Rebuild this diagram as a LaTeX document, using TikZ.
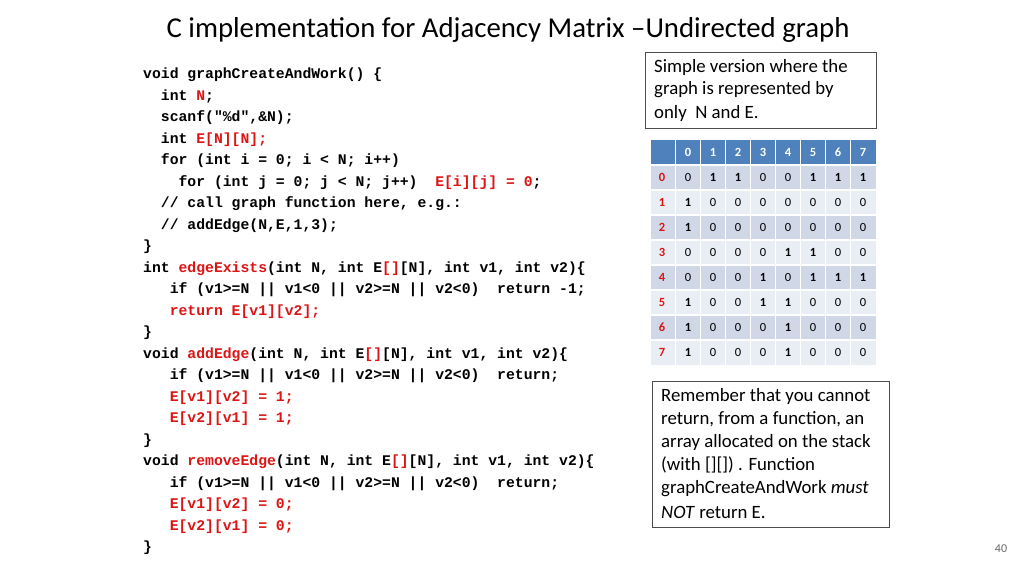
\documentclass[tikz,border=0pt]{standalone}
\usepackage{fontspec}
\setmainfont{Carlito}
\newfontfamily\codef{Liberation Mono}
\definecolor{hdr}{RGB}{79,129,189}
\definecolor{rowa}{RGB}{208,216,232}
\definecolor{rowb}{RGB}{233,237,244}
\definecolor{cred}{RGB}{220,20,20}
\newcommand{\R}[1]{\textcolor{cred}{#1}}
\begin{document}
\begin{tikzpicture}[x=1pt,y=-1pt,
 cl/.style={anchor=west,inner sep=0pt,font=\codef\bfseries\fontsize{14.75}{16}\selectfont},
 tb/.style={draw=black!70,line width=0.6pt,inner sep=0pt},
 bt/.style={anchor=west,inner sep=0pt,font=\fontsize{18.8}{20}\selectfont},
 ce/.style={font=\fontsize{12.5}{13}\selectfont,inner sep=0pt}]
\useasboundingbox (0,0) rectangle (1024,576);
\node[font=\fontsize{28.8}{32}\selectfont] (title) at (508,30) {C implementation for Adjacency Matrix –Undirected graph};
% code
\def\cw{8.85}
\foreach \i/\ind/\t in {
0/0/{void graphCreateAndWork() \{},
1/2/{int \R{N};},
2/2/{scanf("\%d",\&N);},
3/2/{int \R{E[N][N];}},
4/2/{for (int i = 0; i < N; i++)},
5/4/{for (int j = 0; j < N; j++)~~\R{E[i][j] = 0};},
6/2/{// call graph function here, e.g.:},
7/2/{// addEdge(N,E,1,3);},
8/0/{\}},
9/0/{int \R{edgeExists}(int N, int E\R{[]}[N], int v1, int v2)\{},
10/3/{if (v1>=N || v1<0 || v2>=N || v2<0)~~return -1;},
11/3/{\R{return E[v1][v2];}},
12/0/{\}},
13/0/{void \R{addEdge}(int N, int E\R{[]}[N], int v1, int v2)\{},
14/3/{if (v1>=N || v1<0 || v2>=N || v2<0)~~return;},
15/3/{\R{E[v1][v2] = 1;}},
16/3/{\R{E[v2][v1] = 1;}},
17/0/{\}},
18/0/{void \R{removeEdge}(int N, int E\R{[]}[N], int v1, int v2)\{},
19/3/{if (v1>=N || v1<0 || v2>=N || v2<0)~~return;},
20/3/{\R{E[v1][v2] = 0;}},
21/3/{\R{E[v2][v1] = 0;}},
22/0/{\}}}
 {\node[cl] (c\i) at (143+\ind*\cw, 75+\i*21.5) {\t};}
% box 1
\node[tb,minimum width=231,minimum height=76,anchor=north west] (b1) at (645,52) {};
\node[bt] (b1a) at (654,67) {Simple version where the};
\node[bt] (b1b) at (654,90) {graph is represented by};
\node[bt] (b1c) at (654,113) {only~ N and E.};
% matrix
\fill[hdr] (651,140) rectangle (876,165);
\foreach \r in {0,...,7}{
 \pgfmathsetmacro\yy{165+\r*25}
 \ifodd\r \fill[rowb] (651,\yy) rectangle (876,\yy+25); \else \fill[rowa] (651,\yy) rectangle (876,\yy+25); \fi}
\foreach \c in {1,...,8} \draw[white,line width=1.2pt] (651+\c*25-0.5,140) -- (651+\c*25-0.5,365);
\foreach \r in {1,...,8} \draw[white,line width=1.2pt] (651,140+\r*25) -- (876,140+\r*25);
\foreach \c in {0,...,7} \node[ce,text=white,font=\bfseries\fontsize{12.5}{13}\selectfont] (h\c) at (688+\c*25,152) {\c};
\foreach \r/\row in {0/{0,1,1,0,0,1,1,1},1/{1,0,0,0,0,0,0,0},2/{1,0,0,0,0,0,0,0},3/{0,0,0,0,1,1,0,0},4/{0,0,0,1,0,1,1,1},5/{1,0,0,1,1,0,0,0},6/{1,0,0,0,1,0,0,0},7/{1,0,0,0,1,0,0,0}}{
 \node[ce,text=cred,font=\bfseries\fontsize{12.5}{13}\selectfont] (r\r) at (662,177+\r*25) {\r};
 \foreach \v [count=\c from 0] in \row {
  \ifnum\v=1 \node[ce,font=\bfseries\fontsize{12.5}{13}\selectfont] (m\r\c) at (688+\c*25,177+\r*25) {1};
  \else \node[ce] (m\r\c) at (688+\c*25,177+\r*25) {0};\fi}}
% box 2
\node[tb,minimum width=237,minimum height=146,anchor=north west] (b2) at (652,381) {};
\node[bt] (b2a) at (661,396) {Remember that you cannot};
\node[bt] (b2b) at (661,419) {return, from a function, an};
\node[bt] (b2c) at (661,442) {array allocated on the stack};
\node[bt] (b2d) at (661,465) {(with [][]) . Function};
\node[bt] (b2e) at (661,489) {graphCreateAndWork \textit{must}};
\node[bt] (b2f) at (661,512) {\textit{NOT} return E.};
\node[text=black!60,font=\fontsize{12}{14}\selectfont] (pg) at (1001,549) {40};
\end{tikzpicture}
\end{document}
